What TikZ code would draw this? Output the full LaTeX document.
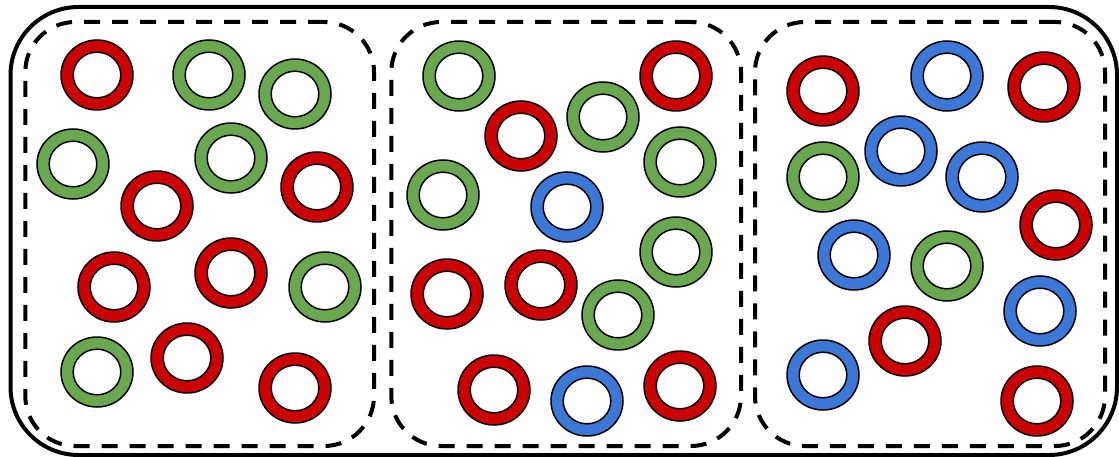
\documentclass[tikz,border=0pt]{standalone}
\usetikzlibrary{shapes.geometric}
\definecolor{ringred}{HTML}{CC0000}
\definecolor{ringgreen}{HTML}{6AA84F}
\definecolor{ringblue}{HTML}{3C78D8}
\tikzset{
  ring/.style={ellipse, draw=black, line width=1.5pt, fill=#1, minimum width=72pt, minimum height=70pt, inner sep=0pt,
    path picture={\draw[line width=1.5pt, fill=white] (path picture bounding box.center) ellipse[x radius=23.8pt, y radius=22.8pt];}},
  outerbox/.style={draw=black, line width=4pt, rounded corners=68pt, inner sep=0pt},
  groupbox/.style={draw=black, line width=4pt, dash pattern=on 16pt off 12pt, rounded corners=50pt, inner sep=0pt},
}
\begin{document}
\begin{tikzpicture}[x=1pt,y=-1pt]
\useasboundingbox (0,0) rectangle (1119,457);
% outer frame
\node[outerbox, minimum width=1106.5pt, minimum height=448pt] (frame) at (563.75,231) {};
% group boxes
\node[groupbox, minimum width=348.7pt, minimum height=424pt] (g1) at (199.65,234) {};
\node[groupbox, minimum width=349.7pt, minimum height=424pt] (g2) at (566.15,234) {};
\node[groupbox, minimum width=350pt, minimum height=424pt] (g3) at (930,234) {};
% group 1
\node[ring=ringred]   (a1)  at (97,75) {};
\node[ring=ringgreen] (a2)  at (209,75) {};
\node[ring=ringgreen] (a3)  at (295,94) {};
\node[ring=ringgreen] (a4)  at (73,164) {};
\node[ring=ringgreen] (a5)  at (231,158) {};
\node[ring=ringred]   (a6)  at (317,187) {};
\node[ring=ringred]   (a7)  at (157,206) {};
\node[ring=ringred]   (a8)  at (114,287) {};
\node[ring=ringred]   (a9)  at (231,273) {};
\node[ring=ringgreen] (a10) at (325,287) {};
\node[ring=ringgreen] (a11) at (97,372) {};
\node[ring=ringred]   (a12) at (187,358) {};
\node[ring=ringred]   (a13) at (295,388) {};
% group 2
\node[ring=ringgreen] (b1)  at (459,76) {};
\node[ring=ringred]   (b2)  at (676,76) {};
\node[ring=ringgreen] (b3)  at (603,117) {};
\node[ring=ringred]   (b4)  at (521,136) {};
\node[ring=ringgreen] (b5)  at (680,162) {};
\node[ring=ringgreen] (b6)  at (443,195) {};
\node[ring=ringblue]  (b7)  at (567,207) {};
\node[ring=ringgreen] (b8)  at (676,252) {};
\node[ring=ringred]   (b9)  at (447,294) {};
\node[ring=ringred]   (b10) at (541,285) {};
\node[ring=ringgreen] (b11) at (618,315) {};
\node[ring=ringred]   (b12) at (494,390) {};
\node[ring=ringblue]  (b13) at (587,401) {};
\node[ring=ringred]   (b14) at (680,386) {};
% group 3
\node[ring=ringred]   (c1)  at (823,91) {};
\node[ring=ringblue]  (c2)  at (947,76) {};
\node[ring=ringred]   (c3)  at (1044,87) {};
\node[ring=ringblue]  (c4)  at (901,151) {};
\node[ring=ringgreen] (c5)  at (823,177) {};
\node[ring=ringblue]  (c6)  at (982,177) {};
\node[ring=ringred]   (c7)  at (1056,225) {};
\node[ring=ringblue]  (c8)  at (854,255) {};
\node[ring=ringgreen] (c9)  at (947,266) {};
\node[ring=ringblue]  (c10) at (1040,311) {};
\node[ring=ringred]   (c11) at (905,341) {};
\node[ring=ringblue]  (c12) at (823,375) {};
\node[ring=ringred]   (c13) at (1037,401) {};
\end{tikzpicture}
\end{document}
